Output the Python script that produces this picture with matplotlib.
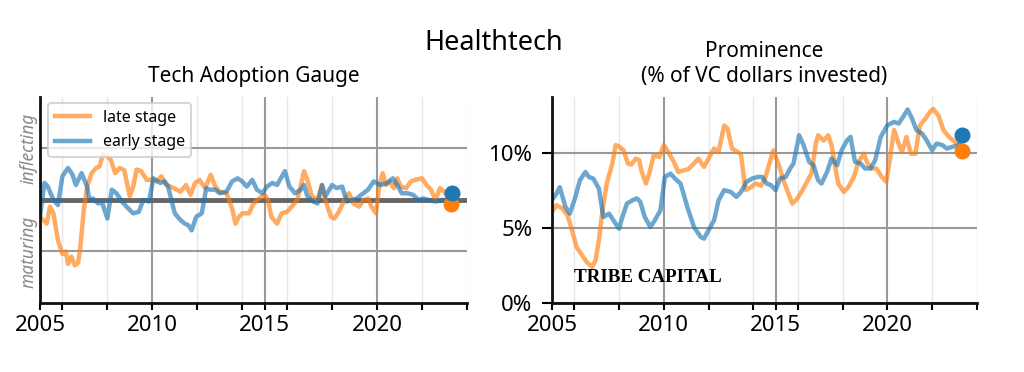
import numpy as np
import matplotlib
matplotlib.use('Agg')
import matplotlib.pyplot as plt
from matplotlib.ticker import FixedLocator, FuncFormatter

plt.rcParams['font.family'] = ['Noto Sans', 'DejaVu Sans']

# ---- Tech Adoption Gauge (left) ----
gauge_late_x = [2005.0, 2005.3, 2005.45, 2005.6, 2005.8, 2006.0, 2006.15, 2006.25, 2006.4, 2006.55,
                2006.7, 2006.8, 2006.95, 2007.1, 2007.3, 2007.5, 2007.65, 2007.8, 2008.0, 2008.15,
                2008.35, 2008.55, 2008.75, 2009.0, 2009.15, 2009.3, 2009.5, 2009.75, 2010.0, 2010.2,
                2010.4, 2010.6, 2010.95, 2011.25, 2011.5, 2011.7, 2011.9, 2012.1, 2012.35, 2012.6,
                2012.8, 2013.0, 2013.3, 2013.55, 2013.7, 2013.85, 2014.0, 2014.3, 2014.5, 2014.75,
                2015.0, 2015.15, 2015.3, 2015.55, 2015.75, 2016.0, 2016.2, 2016.45, 2016.6, 2016.75,
                2016.9, 2017.1, 2017.35, 2017.55, 2017.7, 2017.95, 2018.1, 2018.3, 2018.55, 2018.75,
                2018.95, 2019.2, 2019.4, 2019.6, 2019.75, 2019.95, 2020.1, 2020.25, 2020.4, 2020.55,
                2020.75, 2020.9, 2021.05, 2021.3, 2021.5, 2021.7, 2022.0, 2022.2, 2022.4, 2022.6,
                2022.8, 2023.0, 2023.3]
gauge_late_y = [-0.33, -0.46, -0.13, -0.26, -0.78, -1.05, -1.0, -1.24, -1.1, -1.27,
                -1.22, -0.9, -0.2, 0.26, 0.52, 0.62, 0.65, 0.88, 0.85, 0.78,
                0.52, 0.62, 0.58, 0.07, 0.26, 0.59, 0.56, 0.39, 0.39, 0.36,
                0.46, 0.3, 0.23, 0.16, 0.29, 0.1, 0.33, 0.39, 0.23, 0.49,
                0.26, 0.16, 0.13, -0.16, -0.46, -0.33, -0.26, -0.26, -0.07, 0.03,
                0.1, 0.0, -0.33, -0.46, -0.26, -0.23, -0.13, 0.0, 0.26, 0.56,
                0.39, 0.07, 0.0, 0.29, 0.0, -0.33, -0.36, -0.23, 0.0, 0.13,
                -0.07, -0.13, 0.0, 0.03, -0.13, -0.26, 0.26, 0.52, 0.29, 0.36,
                0.23, 0.42, 0.26, 0.23, 0.36, 0.39, 0.42, 0.29, 0.2, 0.0,
                0.23, 0.16, -0.07]
gauge_early_x = [2005.0, 2005.2, 2005.35, 2005.6, 2005.8, 2006.0, 2006.25, 2006.45, 2006.6, 2006.85,
                 2007.1, 2007.2, 2007.35, 2007.6, 2007.75, 2008.0, 2008.2, 2008.4, 2008.65, 2008.85,
                 2009.15, 2009.4, 2009.6, 2009.85, 2010.05, 2010.35, 2010.55, 2010.7, 2010.85, 2011.0,
                 2011.25, 2011.45, 2011.6, 2011.75, 2011.95, 2012.2, 2012.4, 2012.55, 2012.8, 2013.0,
                 2013.3, 2013.55, 2013.8, 2014.0, 2014.2, 2014.45, 2014.65, 2014.9, 2015.1, 2015.35,
                 2015.55, 2015.9, 2016.1, 2016.35, 2016.6, 2016.75, 2016.9, 2017.15, 2017.35, 2017.55,
                 2017.7, 2018.0, 2018.2, 2018.45, 2018.65, 2018.9, 2019.1, 2019.3, 2019.6, 2019.85,
                 2020.15, 2020.45, 2020.7, 2020.9, 2021.1, 2021.35, 2021.6, 2021.85, 2022.05, 2022.3,
                 2022.6, 2022.9, 2023.2, 2023.35]
gauge_early_y = [-0.33, 0.33, 0.26, 0.0, -0.1, 0.46, 0.62, 0.49, 0.29, 0.52,
                 0.26, 0.0, 0.03, -0.07, -0.03, -0.36, 0.2, 0.13, -0.03, -0.13,
                 -0.26, -0.23, 0.0, -0.03, 0.42, 0.33, 0.36, 0.26, 0.0, -0.26,
                 -0.39, -0.46, -0.49, -0.59, -0.33, -0.26, 0.23, 0.2, 0.2, 0.13,
                 0.16, 0.36, 0.42, 0.36, 0.26, 0.39, 0.2, 0.13, 0.26, 0.33,
                 0.29, 0.56, 0.26, 0.13, 0.2, 0.29, 0.07, -0.03, -0.07, 0.29,
                 0.07, 0.29, 0.23, 0.26, -0.03, 0.0, 0.03, 0.1, 0.2, 0.36,
                 0.29, 0.33, 0.42, 0.29, 0.13, 0.13, 0.1, 0.0, 0.03, 0.0,
                 -0.03, 0.0, 0.0, 0.13]

# ---- Prominence (right), % of VC dollars ----
prom_late_x = [2005.0, 2005.2, 2005.45, 2005.7, 2005.9, 2006.1, 2006.35, 2006.55, 2006.8, 2006.95,
               2007.1, 2007.25, 2007.45, 2007.7, 2007.85, 2008.0, 2008.2, 2008.4, 2008.55, 2008.75,
               2008.9, 2009.0, 2009.2, 2009.35, 2009.55, 2009.8, 2010.0, 2010.2, 2010.45, 2010.65,
               2010.9, 2011.1, 2011.35, 2011.55, 2011.8, 2012.0, 2012.25, 2012.45, 2012.7, 2012.85,
               2013.05, 2013.3, 2013.45, 2013.65, 2013.9, 2014.1, 2014.35, 2014.55, 2014.7, 2014.9,
               2015.15, 2015.35, 2015.6, 2015.75, 2015.95, 2016.2, 2016.4, 2016.6, 2016.8, 2016.9,
               2017.15, 2017.35, 2017.5, 2017.65, 2017.8, 2018.05, 2018.25, 2018.5, 2018.7, 2018.95,
               2019.1, 2019.3, 2019.5, 2019.75, 2019.95, 2020.1, 2020.3, 2020.5, 2020.65, 2020.85,
               2021.05, 2021.25, 2021.45, 2021.7, 2021.9, 2022.05, 2022.3, 2022.5, 2022.75, 2022.95,
               2023.2, 2023.35]
prom_late_y = [6.05, 6.5, 6.3, 5.83, 4.83, 3.72, 3.17, 2.73, 2.39, 2.84,
               4.17, 6.05, 7.94, 9.27, 10.5, 10.4, 10.15, 9.27, 9.2, 9.6,
               9.5, 8.8, 7.94, 8.6, 9.82, 9.7, 10.5, 10.04, 9.38, 8.71,
               8.82, 8.9, 9.27, 9.6, 9.05, 9.6, 10.27, 10.05, 11.8, 11.6,
               10.27, 10.04, 9.9, 7.5, 7.7, 7.94, 7.8, 8.38, 9.16, 10.15,
               9.16, 8.16, 7.16, 6.6, 6.9, 7.5, 8.05, 8.6, 10.6, 11.15,
               10.8, 11.15, 10.5, 9.16, 7.94, 7.38, 7.7, 8.38, 9.38, 9.93,
               9.3, 8.94, 8.94, 8.38, 8.05, 9.49, 11.5, 10.6, 10.04, 11.04,
               9.93, 9.93, 11.8, 12.26, 12.7, 12.9, 12.4, 11.5, 11.04, 10.8,
               10.5, 10.1]
prom_early_x = [2005.0, 2005.2, 2005.35, 2005.6, 2005.8, 2006.05, 2006.25, 2006.5, 2006.65, 2006.85,
                2007.1, 2007.3, 2007.55, 2007.75, 2008.0, 2008.15, 2008.35, 2008.6, 2008.8, 2008.95,
                2009.15, 2009.4, 2009.6, 2009.85, 2010.05, 2010.3, 2010.5, 2010.75, 2011.05, 2011.35,
                2011.65, 2011.8, 2012.0, 2012.25, 2012.45, 2012.7, 2013.0, 2013.25, 2013.45, 2013.7,
                2013.95, 2014.2, 2014.4, 2014.6, 2014.8, 2015.0, 2015.2, 2015.45, 2015.65, 2015.8,
                2016.05, 2016.25, 2016.5, 2016.7, 2016.9, 2017.05, 2017.3, 2017.5, 2017.75, 2017.95,
                2018.2, 2018.35, 2018.55, 2018.8, 2019.0, 2019.25, 2019.45, 2019.7, 2020.0, 2020.3,
                2020.5, 2020.7, 2020.9, 2021.1, 2021.3, 2021.55, 2021.75, 2022.0, 2022.2, 2022.45,
                2022.65, 2022.95, 2023.2, 2023.35]
prom_early_y = [6.83, 7.27, 7.7, 6.4, 5.94, 7.05, 8.16, 8.71, 8.38, 8.27,
                7.6, 5.72, 5.94, 5.5, 4.94, 5.72, 6.6, 6.83, 6.95, 6.72,
                5.72, 5.05, 5.5, 6.16, 8.38, 8.6, 8.27, 7.94, 6.4, 5.05,
                4.39, 4.28, 4.83, 5.5, 6.83, 7.5, 7.38, 7.05, 7.38, 8.05,
                8.27, 8.38, 8.38, 7.94, 7.83, 7.5, 8.27, 8.38, 8.94, 9.27,
                11.15, 10.5, 9.38, 9.16, 8.16, 7.94, 8.71, 9.6, 9.16, 10.15,
                10.82, 11.04, 9.38, 9.27, 8.94, 8.94, 9.49, 11.04, 11.82, 12.04,
                11.93, 12.37, 12.86, 12.26, 11.49, 11.26, 10.82, 10.15, 10.6, 10.5,
                10.27, 10.4, 10.5, 11.15]
prom_late_last = 10.1

years_major = [2005, 2010, 2015, 2020]
years_minor = list(range(2006, 2025, 2))

LATE = '#ff7f0e'
EARLY = '#1f77b4'

fig = plt.figure(figsize=(10.24, 3.72), dpi=100)
ax1 = fig.add_axes([0.039, 0.1855, 0.417, 0.554])
ax2 = fig.add_axes([0.539, 0.1855, 0.415, 0.554])


def style_axis(ax):
    ax.set_xlim(2005, 2024)
    ax.xaxis.set_major_locator(FixedLocator(years_major))
    ax.xaxis.set_minor_locator(FixedLocator(years_minor))
    ax.grid(axis='x', which='minor', color='#e6e6e6', linewidth=1)
    ax.grid(axis='x', which='major', color='#999999', linewidth=1.5)
    ax.grid(axis='y', which='major', color='#999999', linewidth=1.5)
    ax.set_axisbelow(True)
    for s in ['top', 'right']:
        ax.spines[s].set_visible(False)
    for s in ['left', 'bottom']:
        ax.spines[s].set_linewidth(2)
        ax.spines[s].set_color('#111111')
    ax.tick_params(axis='x', which='both', length=5, width=1.5, labelsize=16, pad=4)
    ax.tick_params(axis='y', length=0)


# left panel
style_axis(ax1)
ax1.set_ylim(-2, 2)
ax1.axhline(0, color='#666666', linewidth=3.5, zorder=1.5)
ax1.plot(gauge_late_x, gauge_late_y, color=LATE, alpha=0.65, lw=3.2, label='late stage')
ax1.plot(gauge_early_x, gauge_early_y, color=EARLY, alpha=0.65, lw=3.2, label='early stage')
ax1.plot(gauge_late_x[-1], gauge_late_y[-1], 'o', color=LATE, ms=10.5, zorder=5)
ax1.plot(gauge_early_x[-1], gauge_early_y[-1], 'o', color=EARLY, ms=10.5, zorder=5)
ax1.set_yticks([-1, 1])
ax1.set_yticklabels(['maturing', 'inflecting'], rotation=90, va='center',
                    fontstyle='italic', color='#888888', fontsize=12.5)
ax1.tick_params(axis='y', pad=2)
ax1.set_title('Tech Adoption Gauge', fontsize=15, pad=11)
leg = ax1.legend(loc='upper left', fontsize=11.5, frameon=True, handlelength=2.2,
                 labelspacing=0.55, borderaxespad=0.4, bbox_to_anchor=(0.005, 1.0))
leg.get_frame().set_edgecolor('#cccccc')
leg.get_frame().set_linewidth(1.5)

# right panel
style_axis(ax2)
ax2.set_ylim(0, 13.7)
ax2.set_yticks([0, 5, 10])
ax2.yaxis.set_major_formatter(FuncFormatter(lambda v, p: f'{v:.0f}%'))
ax2.tick_params(axis='y', labelsize=16, length=7, width=1.5, pad=7)
ax2.plot(prom_late_x, prom_late_y, color=LATE, alpha=0.65, lw=3.2)
ax2.plot(prom_early_x, prom_early_y, color=EARLY, alpha=0.65, lw=3.2)
ax2.plot(prom_late_x[-1], prom_late_last, 'o', color=LATE, ms=10.5, zorder=5)
ax2.plot(prom_early_x[-1], prom_early_y[-1], 'o', color=EARLY, ms=10.5, zorder=5)
ax2.set_title('Prominence\n(% of VC dollars invested)', fontsize=15, pad=11, linespacing=1.2)
ax2.text(0.052, 0.125, 'TRIBE CAPITAL', transform=ax2.transAxes, fontsize=13.7,
         fontweight='bold', family='Liberation Serif', va='center', ha='left')

fig.text(0.482, 0.884, 'Healthtech', fontsize=19.5, ha='center', va='center')

fig.savefig('out.png', dpi=100)
